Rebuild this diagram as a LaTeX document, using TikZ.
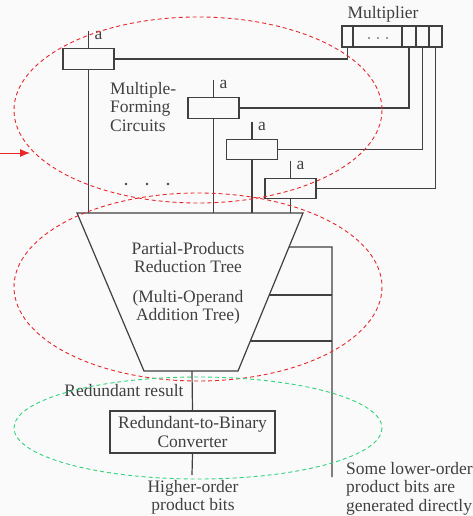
\documentclass[tikz,border=0pt]{standalone}
\usepackage{fontspec}
\setmainfont{Liberation Serif}
\usetikzlibrary{calc,arrows.meta}
\definecolor{ink}{HTML}{404040}
\definecolor{redd}{HTML}{E8262A}
\definecolor{grn}{HTML}{2ED47A}
\begin{document}
\begin{tikzpicture}[x=1pt,y=-1pt,
  wire/.style={draw=ink,line width=1.2pt},
  mfbox/.style={draw=ink,line width=1.2pt,minimum width=51pt,minimum height=20.5pt,inner sep=0pt},
  lbl/.style={text=ink,inner sep=0pt,font=\fontsize{17.5}{18.5}\selectfont},
  albl/.style={lbl,anchor=base west},
  redell/.style={draw=redd,line width=0.9pt,dash pattern=on 4pt off 3pt},
  grnell/.style={draw=grn,line width=0.9pt,dash pattern=on 4pt off 3pt}]
\useasboundingbox (0,0) rectangle (473,516);
\fill[white!98!black] (0,0) rectangle (473,516);

% multiplier register
\node[draw=ink,line width=1.2pt,minimum width=100pt,minimum height=21pt,inner sep=0pt] (mult) at (392,36.5) {};
\node[lbl,anchor=base] (multl) at (383,19) {Multiplier};
\foreach \xx in {353,402,416,429} \draw[wire] (\xx,26) -- (\xx,47);
\foreach \xx in {369,378,387} \fill[ink] (\xx,38) circle (0.9pt);
\coordinate (c1) at (347.5,47);
\coordinate (c2) at (409,47);
\coordinate (c3) at (422.5,47);
\coordinate (c4) at (435.5,47);

% multiple-forming boxes
\node[mfbox] (b1) at (88.5,59) {};
\node[mfbox] (b2) at (213.5,108) {};
\node[mfbox] (b3) at (252,149.5) {};
\node[mfbox] (b4) at (290.5,188.5) {};

\foreach \b in {b1,b2,b3,b4}{
  \coordinate (\b in) at ($(\b.north)+(0,-17)$);
  \draw[wire] (\b in) -- (\b.north);
  \node[albl] at ($(\b in)+(6,8.5)$) {a};
}
\draw[wire] (b1.east) -- (c1 |- b1.east) -- (c1);
\draw[wire] (b2.east) -- (c2 |- b2.east) -- (c2);
\draw[wire] (b3.east) -- (c3 |- b3.east) -- (c3);
\draw[wire] (b4.east) -- (c4 |- b4.east) -- (c4);

\node[lbl,anchor=north west,align=left] (mfc) at (110,82) {Multiple-\\Forming\\Circuits};
\foreach \xx in {126,147,168} \fill[ink] (\xx,184) circle (1.3pt);

% reduction tree
\coordinate (tl) at (77,213);
\coordinate (tr) at (303,213);
\coordinate (br) at (238,371);
\coordinate (bl) at (144,371);
\draw[wire,line join=miter] (tl) -- (tr) -- (br) -- (bl) -- cycle;
\node[lbl,align=center,anchor=north] (tree) at (188,242) {Partial-Products\\Reduction Tree\\[11pt](Multi-Operand\\Addition Tree)};

\foreach \b in {b1,b2,b3,b4} \draw[wire] (\b.south) -- (\b.south |- tl);

% direct low-order bits
\coordinate (r1) at ($(tr)!0.215!(br)$);
\coordinate (r2) at ($(tr)!0.519!(br)$);
\coordinate (r3) at ($(tr)!0.810!(br)$);
\coordinate (rv) at (332,247);
\coordinate (rend) at (332,477);
\draw[wire] (r1) -- (rv) -- (rend);
\draw[wire] (r2) -- (rv |- r2);
\draw[wire] (r3) -- (rv |- r3);
\node[lbl,align=left,anchor=north west] (low) at (346,462) {Some lower-order\\product bits are\\generated directly};

% converter
\coordinate (tb) at (192,371);
\node[draw=ink,line width=1.2pt,minimum width=165pt,minimum height=42pt,inner sep=0pt] (conv) at (192.5,432) {};
\node[lbl,align=center] at (conv.center) {Redundant-to-Binary\\Converter};
\draw[wire] (tb) -- (conv.north);
\node[lbl,anchor=base] (red) at (124,396) {Redundant result};
\coordinate (cout) at (192,475);
\draw[wire] (conv.south) -- (cout);
\node[lbl,align=center,anchor=north] (hi) at (193,480) {Higher-order\\product bits};

% ellipses
\draw[redell] (198,110) ellipse [x radius=184, y radius=93];
\draw[redell] (198,287) ellipse [x radius=184, y radius=94];
\draw[grnell] (198,428) ellipse [x radius=184, y radius=51];
\coordinate (ain) at (0,153);
\coordinate (aend) at (30,153);
\draw[redd,line width=0.9pt,-{Latex[length=10pt,width=8pt]}] (ain) -- (aend);
\end{tikzpicture}
\end{document}
